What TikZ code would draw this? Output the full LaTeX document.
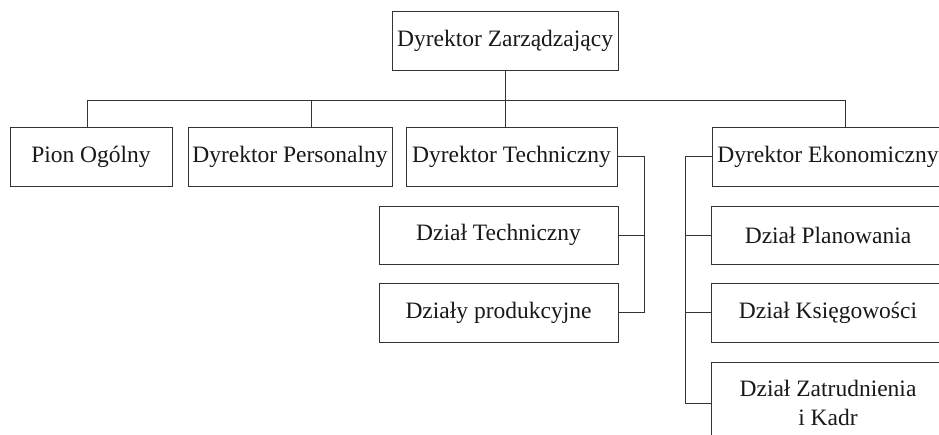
\documentclass[tikz,border=0pt]{standalone}
\usepackage{fontspec}
\setmainfont{Liberation Serif}
\usepackage{tikz}
\usepackage{xcolor}
\definecolor{ink}{HTML}{333333}
\tikzset{
    org-box/.style = {draw=ink, fill=white, line width=0.9pt, rectangle, inner sep=0pt, minimum height=59pt, align=center, text=black!90, font=\fontsize{23.5}{29}\selectfont},
    org-line/.style = {draw=ink, line width=0.9pt},
}

\begin{document}
\begin{tikzpicture}[x=1pt, y=-1pt]
\useasboundingbox (0,0) rectangle (939,434);
\clip (0,0) rectangle (939,434);
\node [org-box, minimum width=226pt] (zarz) at (505,40.5) {Dyrektor Zarządzający};
\node [org-box, minimum width=162pt] (pion) at (91,156.5) {Pion Ogólny};
\node [org-box, minimum width=204pt] (pers) at (290,156.5) {Dyrektor Personalny};
\node [org-box, minimum width=211pt] (tech) at (511.5,156.5) {Dyrektor Techniczny};
\node [org-box, minimum width=232pt] (ekon) at (828,156.5) {Dyrektor Ekonomiczny};
\node [org-box, minimum width=239pt, minimum height=58pt] (dtech) at (498.5,235) {Dział Techniczny};
\node [org-box, minimum width=239pt] (dprod) at (498.5,312.5) {Działy produkcyjne};
\node [org-box, minimum width=234pt, minimum height=58pt] (plan) at (828,235) {Dział Planowania};
\node [org-box, minimum width=234pt] (ksieg) at (828,312.5) {Dział Księgowości};
\node [org-box, minimum width=234pt, minimum height=82pt] (zatr) at (828,403) {Dział Zatrudnienia\\i Kadr};

\coordinate (bus) at ([yshift=-30pt]zarz.south);
\draw [org-line] (zarz.south) -- (zarz.south |- tech.north);
\draw [org-line] ([xshift=-4pt]pion.north) |- (bus) -| ([xshift=17pt]ekon.north);
\draw [org-line] ([xshift=21pt]pers.north) -- ([xshift=21pt]pers.north |- bus);

\draw [org-line] (tech.east) -| ([xshift=26pt]dprod.east) -- (dprod.east);
\draw [org-line] (dtech.east) -- ++(26pt,0);

\draw [org-line] (ekon.west) -| ([xshift=-25pt]zatr.west) -- (zatr.west);
\draw [org-line] (plan.west) -- ++(-25pt,0);
\draw [org-line] (ksieg.west) -- ++(-25pt,0);
\end{tikzpicture}
\end{document}
